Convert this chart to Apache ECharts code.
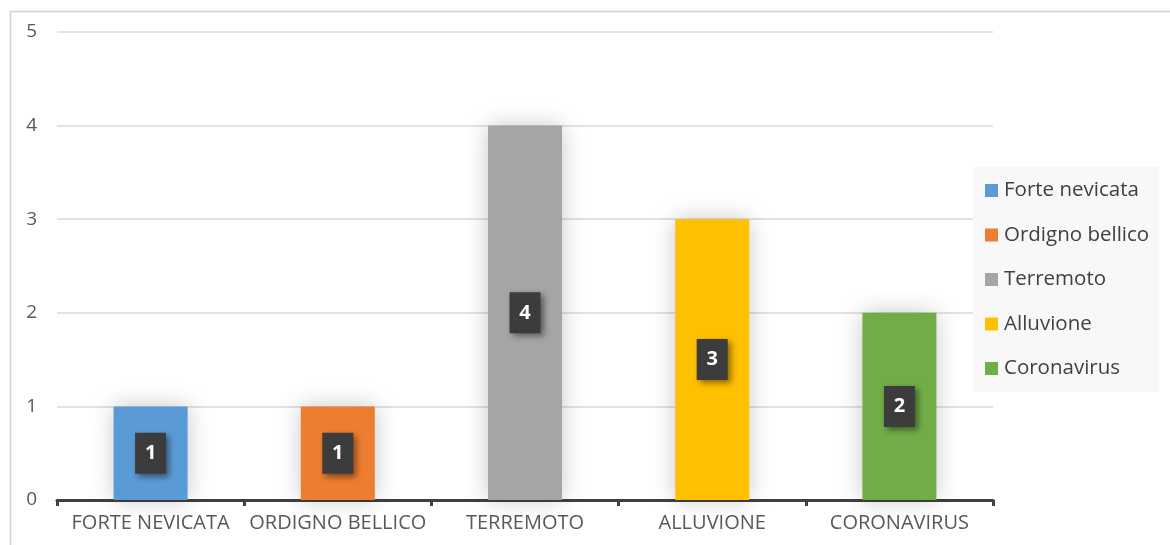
<!DOCTYPE html>
<html>
<head>
<meta charset="utf-8">
<script src="https://cdn.jsdelivr.net/npm/echarts@6/dist/echarts.min.js"></script>
<style>
  html, body { margin: 0; padding: 0; background: #ffffff; }
  #chart { width: 1170px; height: 545px; }
</style>
</head>
<body>
<div id="chart"></div>
<script>
// Event types on the x axis
const categories = ['FORTE NEVICATA', 'ORDIGNO BELLICO', 'TERREMOTO', 'ALLUVIONE', 'CORONAVIRUS'];
// Legend names, one series per event type
const seriesNames = ['Forte nevicata', 'Ordigno bellico', 'Terremoto', 'Alluvione', 'Coronavirus'];
// Number of occurrences per event
const counts = [1, 1, 4, 3, 2];
const colors = ['#5b9bd5', '#ed7d31', '#a5a5a5', '#ffc000', '#70ad47'];
const yTicks = [0, 1, 2, 3, 4, 5];

const FONT = '"Open Sans", "Noto Sans", sans-serif';

// Each series only holds a value at its own category; bars overlap so they sit centred
const series = seriesNames.map((name, i) => ({
  name: name,
  type: 'bar',
  barWidth: 74,
  barGap: '-100%',
  data: categories.map((c, j) => (j === i ? counts[i] : '-')),
  itemStyle: {
    color: colors[i],
    shadowBlur: 22,
    shadowColor: 'rgba(0,0,0,0.22)'
  },
  label: {
    show: true,
    position: 'inside',
    color: '#ffffff',
    fontFamily: FONT,
    fontWeight: 'bold',
    fontSize: 20,
    lineHeight: 24,
    width: 15,
    align: 'center',
    backgroundColor: '#3c3c3c',
    padding: [9, 8, 8, 8],
    shadowBlur: 6,
    shadowOffsetX: 3,
    shadowOffsetY: 3,
    shadowColor: 'rgba(0,0,0,0.45)'
  }
}));

const chart = echarts.init(document.getElementById('chart'), null, { renderer: 'canvas' });
chart.setOption({
  animation: false,
  backgroundColor: '#ffffff',
  graphic: [{
    type: 'rect',
    left: 8,
    top: 9,
    shape: { width: 1200, height: 600 },
    style: { fill: 'none', stroke: '#d0d0d0', lineWidth: 1.5 },
    silent: true,
    z: -1
  }],
  grid: { left: 57, right: 177, top: 32, bottom: 45 },
  legend: {
    orient: 'vertical',
    left: 973,
    top: 167,
    backgroundColor: '#f8f8f8',
    padding: [13, 10, 13, 12],
    icon: 'rect',
    itemWidth: 13,
    itemHeight: 13,
    itemGap: 23.5,
    data: seriesNames,
    textStyle: { fontFamily: FONT, fontSize: 20.5, color: '#404040', padding: [0, 0, 0, 1] }
  },
  xAxis: {
    type: 'category',
    data: categories,
    axisLine: { lineStyle: { color: '#404040', width: 3 } },
    axisTick: { show: true, length: 6, lineStyle: { color: '#404040', width: 3 } },
    axisLabel: { interval: 0, fontFamily: FONT, fontSize: 20, color: '#595959', margin: 13 }
  },
  yAxis: {
    type: 'value',
    min: yTicks[0],
    max: yTicks[yTicks.length - 1],
    interval: 1,
    axisLine: { show: false },
    axisTick: { show: false },
    splitLine: { lineStyle: { color: '#d9d9d9', width: 1.5 } },
    axisLabel: { fontFamily: FONT, fontSize: 19, color: '#595959', margin: 20 }
  },
  series: series
});
</script>
</body>
</html>
